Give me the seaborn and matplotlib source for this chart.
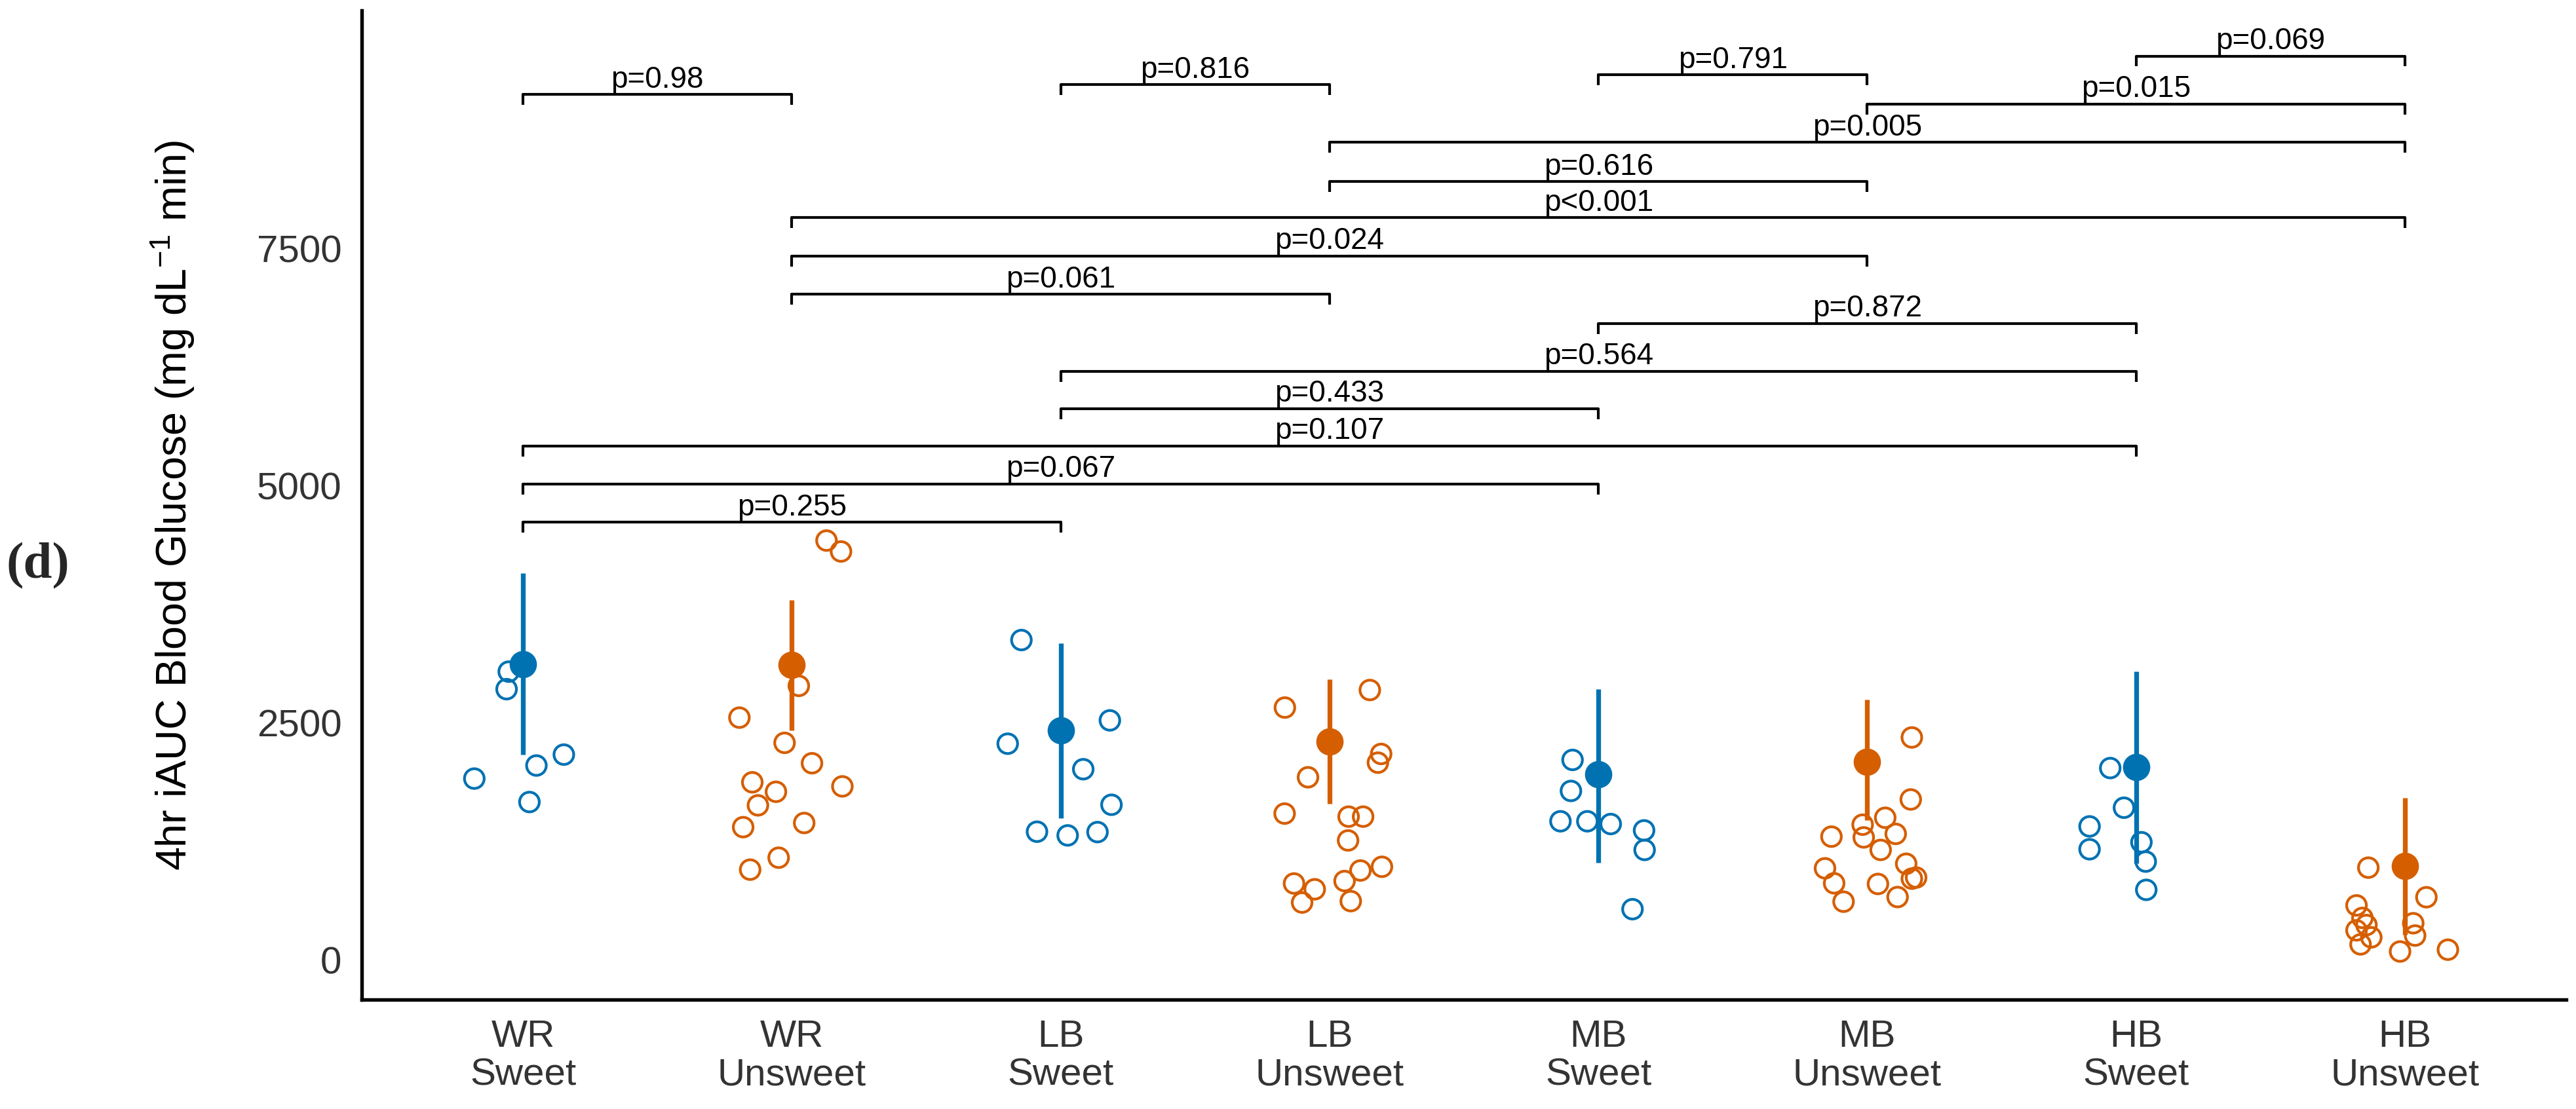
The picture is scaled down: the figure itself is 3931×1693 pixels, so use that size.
import numpy as np
import pandas as pd
import matplotlib
matplotlib.use('Agg')
import matplotlib.pyplot as plt
import seaborn as sns

# groups on the x axis
carbs = ['WR', 'WR', 'LB', 'LB', 'MB', 'MB', 'HB', 'HB']
sweetness = ['Sweet', 'Unsweet', 'Sweet', 'Unsweet', 'Sweet', 'Unsweet', 'Sweet', 'Unsweet']

# individual iAUC values and their horizontal jitter
wr_sweet = [3039, 2854, 1911, 2049, 2164, 1664]
wr_sweet_jit = [-0.053, -0.061, -0.181, 0.050, 0.152, 0.024]
wr_unsweet = [4421, 4306, 2889, 2554, 2288, 2073, 1872, 1772, 1829, 1629, 1399, 1443, 1077, 951]
wr_unsweet_jit = [0.129, 0.183, 0.026, -0.195, -0.027, 0.075, -0.147, -0.059, 0.188, -0.126,
                  -0.181, 0.046, -0.049, -0.155]
lb_sweet = [3372, 2525, 2279, 2010, 1635, 1351, 1312, 1347]
lb_sweet_jit = [-0.146, 0.183, -0.197, 0.084, 0.189, -0.088, 0.026, 0.137]
lb_unsweet = [2845, 2660, 2171, 2079, 1925, 1542, 1510, 1510, 1259, 981, 942, 831, 805, 744, 604, 619]
lb_unsweet_jit = [0.150, -0.166, 0.192, 0.180, -0.080, -0.167, 0.071, 0.125, 0.069, 0.195,
                  0.115, 0.056, -0.132, -0.055, -0.102, 0.079]
mb_sweet = [2108, 1781, 1461, 1461, 1432, 1365, 1159, 534]
mb_sweet_jit = [-0.096, -0.102, -0.141, -0.041, 0.046, 0.170, 0.172, 0.127]
mb_unsweet = [2345, 1691, 1498, 1425, 1291, 1328, 1299, 1159, 1013, 856, 965, 807, 800, 662, 613, 868]
mb_unsweet_jit = [0.166, 0.162, 0.067, -0.017, -0.013, 0.106, -0.133, 0.050, 0.145, 0.166,
                  -0.157, -0.123, 0.040, 0.113, -0.088, 0.182]
hb_sweet = [2022, 1604, 1407, 1166, 1240, 1036, 738]
hb_sweet_jit = [-0.096, -0.045, -0.173, -0.173, 0.020, 0.036, 0.038]
hb_unsweet = [972, 660, 574, 442, 367, 311, 237, 163, 386, 256, 88, 107]
hb_unsweet_jit = [-0.136, 0.080, -0.180, -0.158, -0.143, -0.180, -0.125, -0.165, 0.031, 0.038,
                  -0.018, 0.160]

# group estimates with interval
means = [3119, 3109, 2417, 2303, 1958, 2090, 2030, 988]
ci_low = [2164, 2417, 1496, 1643, 1026, 1474, 1020, 265]
ci_high = [4075, 3791, 3339, 2956, 2858, 2745, 3041, 1711]

# pairwise comparisons: left group, right group, bracket height, label
bracket_left = [0, 0, 0, 2, 2, 4, 1, 1, 1, 3, 3, 5, 0, 2, 4, 6]
bracket_right = [2, 4, 6, 4, 6, 6, 3, 5, 7, 5, 7, 7, 1, 3, 5, 7]
bracket_y = [4615, 5019, 5420, 5813, 6206, 6711, 7018, 7422, 7826, 8208, 8620, 9024,
             9125, 9230, 9334, 9530]
bracket_p = ['p=0.255', 'p=0.067', 'p=0.107', 'p=0.433', 'p=0.564', 'p=0.872', 'p=0.061',
             'p=0.024', 'p<0.001', 'p=0.616', 'p=0.005', 'p=0.015', 'p=0.98', 'p=0.816',
             'p=0.791', 'p=0.069']

BLUE = '#0072B2'
ORANGE = '#D55E00'
palette = {'Sweet': BLUE, 'Unsweet': ORANGE}

sns.set_theme(style='white')
plt.rcParams['font.family'] = ['Liberation Sans', 'DejaVu Sans']
plt.rcParams['mathtext.fontset'] = 'custom'
plt.rcParams['mathtext.rm'] = 'Liberation Sans'
plt.rcParams['mathtext.it'] = 'Liberation Sans:italic'

# long table of individual points
values = [wr_sweet, wr_unsweet, lb_sweet, lb_unsweet, mb_sweet, mb_unsweet, hb_sweet, hb_unsweet]
jitters = [wr_sweet_jit, wr_unsweet_jit, lb_sweet_jit, lb_unsweet_jit, mb_sweet_jit,
           mb_unsweet_jit, hb_sweet_jit, hb_unsweet_jit]
rows = []
for i, (vals, jit) in enumerate(zip(values, jitters)):
    for v, j in zip(vals, jit):
        rows.append({'group': i, 'type': sweetness[i], 'x': i + j, 'iauc': v})
df = pd.DataFrame(rows)

summary = pd.DataFrame({'group': range(len(means)), 'type': sweetness,
                        'mean': means, 'lo': ci_low, 'hi': ci_high})

fig = plt.figure(figsize=(3931 / 300, 1693 / 300), dpi=300)
ax = fig.add_axes([0.1404, 0.0986, 0.8558, 0.8919])

# raw points, open circles
for t, color in palette.items():
    sub = df[df['type'] == t]
    sns.scatterplot(data=sub, x='x', y='iauc', ax=ax, s=52, marker='o',
                    facecolor='none', edgecolor=color, linewidth=1.0, legend=False, zorder=3)

# interval and estimate
for t, color in palette.items():
    sub = summary[summary['type'] == t]
    ax.vlines(sub['group'], sub['lo'], sub['hi'], color=color, linewidth=1.75, zorder=4)
    sns.scatterplot(data=sub, x='group', y='mean', ax=ax, s=100, color=color,
                    linewidth=0, legend=False, zorder=5)

# comparison brackets
tip = 110
for l, r, y, p in zip(bracket_left, bracket_right, bracket_y, bracket_p):
    ax.plot([l, l, r, r], [y - tip, y, y, y - tip], color='black', linewidth=1.0,
            solid_capstyle='butt', zorder=2)
    ax.annotate(p, xy=((l + r) / 2, y), xytext=(0, 2.5), textcoords='offset points',
                ha='center', va='baseline', fontsize=11, color='black')

ax.set_xlim(-0.6, 7.6)
ax.set_ylim(-420, 10010)
ax.set_xticks(range(len(carbs)))
ax.set_xticklabels([f'{c}\n{s}' for c, s in zip(carbs, sweetness)], linespacing=1.1)
ax.set_yticks([0, 2500, 5000, 7500])
ax.tick_params(axis='both', length=4.3, width=1.1, color='#333333', labelcolor='#333333',
               labelsize=14, pad=3)
ax.set_xlabel('')
ax.set_ylabel(r'4hr iAUC Blood Glucose (mg dL$^{-1}$ min)', fontsize=15.5, color='black')
ax.yaxis.set_label_coords(-0.075, 0.5)

sns.despine(ax=ax)
for side in ['left', 'bottom']:
    ax.spines[side].set_linewidth(1.3)
    ax.spines[side].set_color('black')

fig.text(0.0148, 0.49, '(d)', fontsize=19, fontweight='bold',
         family=['Liberation Serif', 'DejaVu Serif'], ha='center', va='center')

fig.savefig('out.png', dpi=300, facecolor='white')
